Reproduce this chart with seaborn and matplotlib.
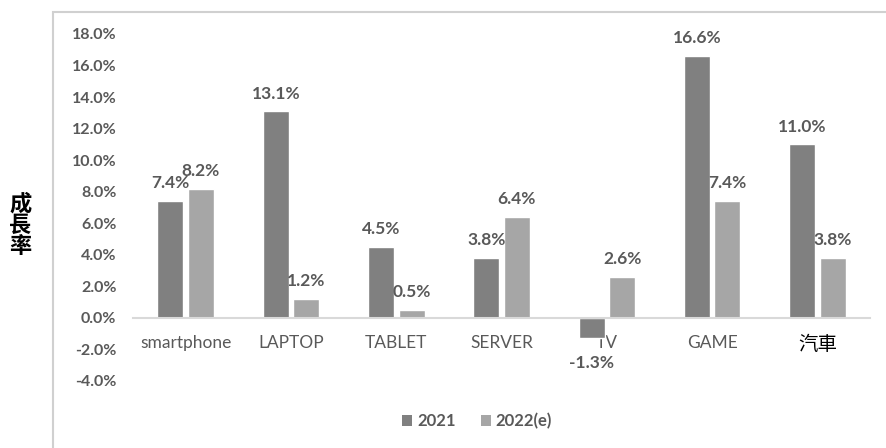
import numpy as np
import pandas as pd
import matplotlib.pyplot as plt
import seaborn as sns
from matplotlib.patches import Rectangle, Patch

# data
categories = ['smartphone', 'LAPTOP', 'TABLET', 'SERVER', 'TV', 'GAME', '汽車']
growth_2021 = [7.4, 13.1, 4.5, 3.8, -1.3, 16.6, 11.0]
growth_2022e = [8.2, 1.2, 0.5, 6.4, 2.6, 7.4, 3.8]
series_names = ['2021', '2022(e)']
yticks = np.arange(-4, 19, 2)

df = pd.DataFrame({
    'category': categories * 2,
    'value': growth_2021 + growth_2022e,
    'series': [series_names[0]] * len(categories) + [series_names[1]] * len(categories),
})

colors = ['#808080', '#a6a6a6']
text_gray = '#595959'

sns.set_theme(style='white')
plt.rcParams['font.family'] = ['Lato', 'Noto Sans CJK TC', 'DejaVu Sans']

fig = plt.figure(figsize=(8.87, 4.48), dpi=100)
ax = fig.add_axes([0.15, 0.1496, 0.831, 0.7746])
sns.barplot(data=df, x='category', y='value', hue='series', palette=colors,
            width=0.58, gap=0.15, ax=ax, legend=False)

ax.set_ylim(-4, 18)
ax.set_xlim(-0.5, len(categories) - 0.5)
ax.set_yticks(yticks)
ax.set_yticklabels([f'{t:.1f}%' for t in yticks], fontsize=11.5, fontweight='bold', color=text_gray)
ax.tick_params(axis='y', length=0, pad=12)
ax.set_xlabel('')
ax.set_ylabel('')

# category axis sits on the zero line
for s in ['top', 'right', 'left']:
    ax.spines[s].set_visible(False)
ax.spines['bottom'].set_position(('data', 0))
ax.spines['bottom'].set_color('#d9d9d9')
ax.spines['bottom'].set_linewidth(1.5)
ax.tick_params(axis='x', length=0, pad=12)
for lbl in ax.get_xticklabels():
    if lbl.get_text() == '汽車':
        lbl.set_color('black')
        lbl.set_fontsize(14)
    else:
        lbl.set_color(text_gray)
        lbl.set_fontsize(12.5)

# value labels
for cont in ax.containers:
    for bar in cont:
        h = bar.get_height()
        xc = bar.get_x() + bar.get_width() / 2
        if h >= 0:
            ax.annotate(f'{h:.1f}%', (xc, h), xytext=(0, 7), textcoords='offset points',
                        ha='center', va='bottom', fontsize=12.5, fontweight='bold', color=text_gray)
        else:
            ax.annotate(f'{h:.1f}%', (xc, h), xytext=(0, -12), textcoords='offset points',
                        ha='center', va='top', fontsize=12.5, fontweight='bold', color=text_gray)

# vertical y label
fig.text(0.023, 0.498, '成\n長\n率', ha='center', va='center', fontsize=16,
         fontweight='bold', color='black', linespacing=1.0)

handles = [Patch(facecolor=c, edgecolor='none', label=n) for c, n in zip(colors, series_names)]
leg = fig.legend(handles=handles, loc='center', bbox_to_anchor=(0.538, 0.06), ncol=2,
                 frameon=False, handlelength=0.6, handleheight=0.6, handletextpad=0.3,
                 columnspacing=1.5, prop={'weight': 'bold', 'size': 12})
for t in leg.get_texts():
    t.set_color(text_gray)

# outer chart border
fig.patches.append(Rectangle((53 / 887, -0.05), 1.2, 0.05 + 1 - 12.5 / 448,
                             transform=fig.transFigure, fill=False,
                             edgecolor='#d0d0d0', linewidth=1.5))

fig.savefig('out.png', dpi=100)
